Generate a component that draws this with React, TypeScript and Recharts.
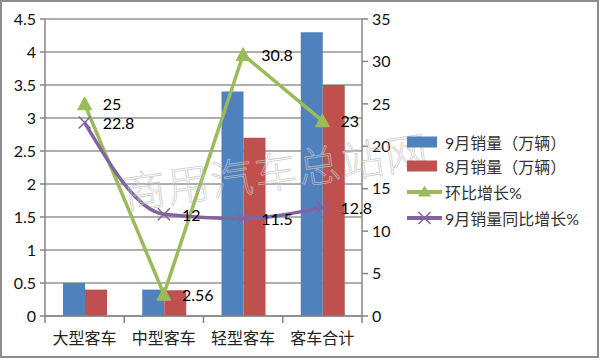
import React from "react";
import {
  ComposedChart,
  Bar,
  Line,
  XAxis,
  YAxis,
  CartesianGrid,
  LabelList,
} from "recharts";

const categories = ["大型客车", "中型客车", "轻型客车", "客车合计"];
const sepSales = [0.5, 0.4, 3.4, 4.3];
const augSales = [0.4, 0.39, 2.7, 3.5];
const momGrowth = [25, 2.56, 30.8, 23];
const yoyGrowth = [22.8, 12, 11.5, 12.8];
const leftTicks = [0, 0.5, 1, 1.5, 2, 2.5, 3, 3.5, 4, 4.5];
const rightTicks = [0, 5, 10, 15, 20, 25, 30, 35];

const seriesNames = ["9月销量（万辆）", "8月销量（万辆）", "环比增长%", "9月销量同比增长%"];

const BLUE = "#4F81BD";
const RED = "#C0504D";
const GREEN = "#9BBB59";
const PURPLE = "#8064A2";
const GRID = "#959595";
const AXIS = "#868686";

const data = categories.map((name, i) => ({
  name,
  sep: sepSales[i],
  aug: augSales[i],
  mom: momGrowth[i],
  yoy: yoyGrowth[i],
}));

const NUM_FONT = "Lato, 'Noto Sans CJK SC', sans-serif";
const CJK_FONT = "'Noto Sans CJK SC', sans-serif";

const PLOT_LEFT = 45;
const PLOT_RIGHT = 362;
const PLOT_BOTTOM = 316;
const BAND = (PLOT_RIGHT - PLOT_LEFT) / categories.length;

const XTick = (props: any) => {
  const { x, payload, index } = props;
  return (
    <g>
      {index === 0 && (
        <line x1={x - BAND / 2} x2={x - BAND / 2} y1={PLOT_BOTTOM} y2={PLOT_BOTTOM + 7} stroke={AXIS} strokeWidth={1.5} />
      )}
      <line x1={x + BAND / 2} x2={x + BAND / 2} y1={PLOT_BOTTOM} y2={PLOT_BOTTOM + 7} stroke={AXIS} strokeWidth={1.5} />
      <text x={x} y={PLOT_BOTTOM + 21} textAnchor="middle" dominantBaseline="central" fontSize={16} fontFamily={CJK_FONT} fill="#222">
        {payload.value}
      </text>
    </g>
  );
};

const Triangle = (props: any) => {
  const { cx, cy } = props;
  if (cx == null || cy == null) return null;
  const s = 7;
  return <path d={`M${cx},${cy - s} L${cx + s},${cy + s * 0.85} L${cx - s},${cy + s * 0.85} Z`} fill={GREEN} stroke={GREEN} />;
};

const Cross = (props: any) => {
  const { cx, cy } = props;
  if (cx == null || cy == null) return null;
  const s = 6;
  return (
    <path d={`M${cx - s},${cy - s} L${cx + s},${cy + s} M${cx - s},${cy + s} L${cx + s},${cy - s}`} stroke={PURPLE} strokeWidth={1.5} fill="none" />
  );
};

const LineLabel = (props: any) => {
  const { x, y, value } = props;
  if (x == null || y == null) return null;
  return (
    <text x={x + 18} y={y} dominantBaseline="central" fontSize={16} fontFamily={NUM_FONT} fill="#000">
      {value}
    </text>
  );
};

const legendTop = [142, 166, 192, 218];

const LegendIcon = ({ i }: { i: number }) => {
  if (i < 2) {
    return <rect x={0} y={1} width={30} height={11} fill={i === 0 ? BLUE : RED} />;
  }
  const c = i === 2 ? GREEN : PURPLE;
  return (
    <g>
      <line x1={0} x2={35} y1={6.5} y2={6.5} stroke={c} strokeWidth={4} />
      {i === 2 ? (
        <path d="M17.5,0 L24,11 L11,11 Z" fill={c} />
      ) : (
        <path d="M11.5,0.5 L23.5,12.5 M11.5,12.5 L23.5,0.5" stroke={c} strokeWidth={1.5} />
      )}
    </g>
  );
};

export default function App() {
  return (
    <div style={{ position: "absolute", left: 0, top: 0, width: 600, height: 360, background: "#fff", overflow: "hidden" }}>
      <ComposedChart
        width={600}
        height={360}
        data={data}
        margin={{ top: 19, right: 0, bottom: 0, left: 0 }}
        barGap={0}
      >
        <CartesianGrid yAxisId="left" vertical={false} stroke={GRID} strokeWidth={1.5} />
        <XAxis
          dataKey="name"
          height={44}
          interval={0}
          tickLine={false}
          axisLine={{ stroke: AXIS, strokeWidth: 1.5 }}
          tick={<XTick />}
        />
        <YAxis
          yAxisId="left"
          width={45}
          domain={[0, 4.5]}
          ticks={leftTicks}
          interval={0}
          tickSize={5}
          tickMargin={4}
          axisLine={{ stroke: AXIS, strokeWidth: 1.5 }}
          tickLine={{ stroke: AXIS, strokeWidth: 1.5 }}
          tick={{ fontSize: 16, fontFamily: NUM_FONT, fill: "#111" }}
        />
        <YAxis
          yAxisId="right"
          orientation="right"
          width={238}
          domain={[0, 35]}
          ticks={rightTicks}
          interval={0}
          tickSize={6}
          tickMargin={4}
          axisLine={{ stroke: AXIS, strokeWidth: 1.5 }}
          tickLine={{ stroke: AXIS, strokeWidth: 1.5 }}
          tick={{ fontSize: 16, fontFamily: NUM_FONT, fill: "#111", textAnchor: "start" }}
        />
        <Bar yAxisId="left" dataKey="sep" name={seriesNames[0]} fill={BLUE} barSize={22} isAnimationActive={false} />
        <Bar yAxisId="left" dataKey="aug" name={seriesNames[1]} fill={RED} barSize={22} isAnimationActive={false} />
        <Line
          yAxisId="right"
          dataKey="mom"
          name={seriesNames[2]}
          type="linear"
          stroke={GREEN}
          strokeWidth={3.5}
          dot={<Triangle />}
          activeDot={false}
          isAnimationActive={false}
        >
          <LabelList dataKey="mom" content={<LineLabel />} />
        </Line>
        <Line
          yAxisId="right"
          dataKey="yoy"
          name={seriesNames[3]}
          type="monotone"
          stroke={PURPLE}
          strokeWidth={3.5}
          dot={<Cross />}
          activeDot={false}
          isAnimationActive={false}
        >
          <LabelList dataKey="yoy" content={<LineLabel />} />
        </Line>
      </ComposedChart>

      <svg width={600} height={360} style={{ position: "absolute", left: 0, top: 0, pointerEvents: "none" }}>
        <text
          x={276}
          y={169}
          textAnchor="middle"
          dominantBaseline="central"
          fontSize={42}
          fontFamily={CJK_FONT}
          fontWeight={300}
          fill="none"
          stroke="#c4c4c4"
          strokeWidth={0.8}
          letterSpacing={2}
          transform="rotate(-8 276 169)"
          opacity={0.8}
        >
          商用汽车总站网
        </text>
        {seriesNames.map((n, i) => (
          <g key={n} transform={`translate(407, ${legendTop[i] - 6.5})`}>
            <LegendIcon i={i} />
            <text x={38} y={6.5} dominantBaseline="central" fontSize={16} fontFamily={NUM_FONT} fill="#333">
              {n}
            </text>
          </g>
        ))}
      </svg>

      <div
        style={{
          position: "absolute",
          left: 0,
          top: 0,
          width: 599,
          height: 358,
          boxSizing: "border-box",
          border: "2px solid #8c8c8c",
          pointerEvents: "none",
        }}
      />
    </div>
  );
}
